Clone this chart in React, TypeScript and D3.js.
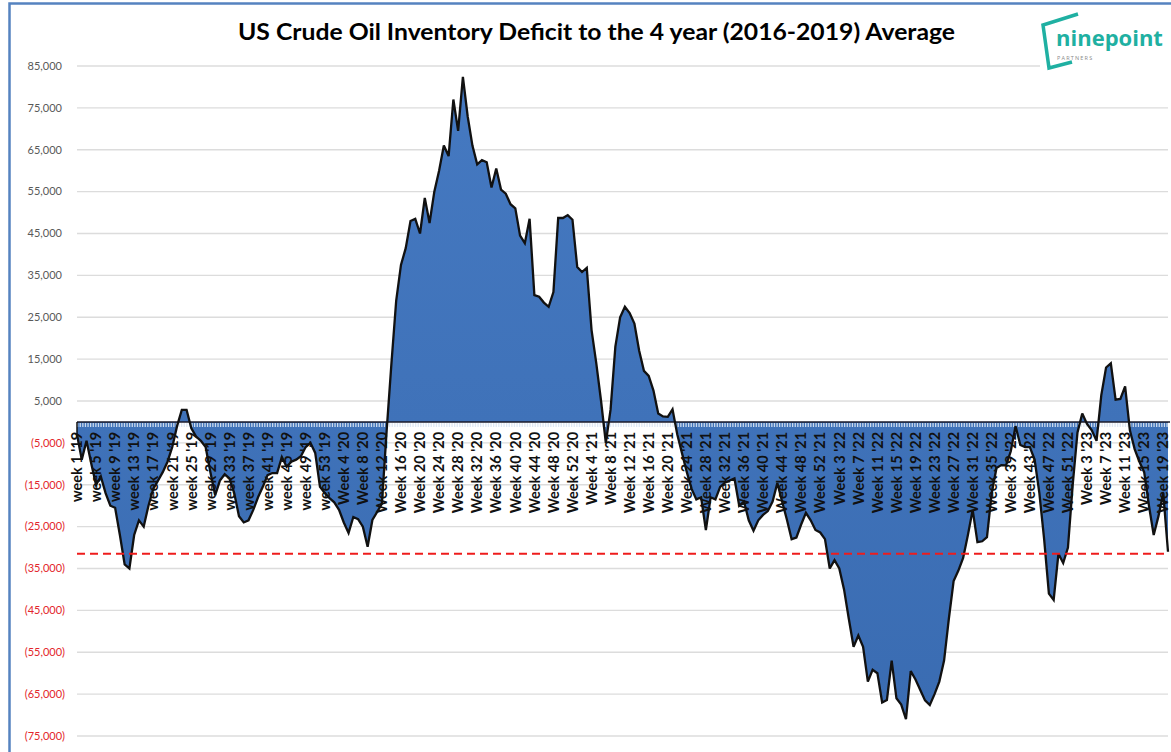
import React from "react";
import * as d3 from "d3";

// Weekly deficit vs 4-year (2016-2019) average, thousand barrels
const deficitK: number[] = [
  -3, -9, -4.5, -10, -15, -13, -17, -20, -20.5, -27,
  -34, -35, -27, -23.5, -25, -20, -16, -14, -12, -9.5,
  -6, -1, 2.9, 2.9, -1.5, -3.5, -4.5, -6, -12, -17.5,
  -14, -12.5, -13.5, -17, -22.5, -24, -23.5, -21, -18, -15.5,
  -12.7, -12.2, -12.2, -8.4, -10.7, -9.5, -9, -8.2, -6, -5,
  -7.4, -15.5, -17, -18.2, -19.2, -21, -24, -26.5, -22.7, -23.2,
  -25, -29.8, -23.4, -21.5, -19.5, -2, 14, 29, 37.5, 41.5,
  48, 48.5, 45, 53.5, 47.5, 55, 60, 66, 63.5, 77,
  69.5, 82.4, 73, 66, 61.5, 62.5, 62, 56, 60.5, 55.5,
  54.5, 52, 51, 44.5, 42.7, 48.5, 30.3, 29.9, 28.5, 27.5,
  31, 48.7, 48.7, 49.4, 48.3, 37, 35.8, 36.8, 22, 14,
  5, -5, 3, 18, 25, 27.5, 26, 23.5, 17, 12.2,
  11, 7.5, 2, 1.3, 1.2, 3, -3, -7.5, -12, -16,
  -18.5, -18, -25.8, -18, -18.5, -15.5, -14.5, -14, -13.5, -20,
  -19, -23.5, -26, -23.5, -22.2, -21.3, -19, -14.6, -19, -23.3,
  -28, -27.6, -24.5, -21.7, -23.5, -25.8, -26.4, -28, -35, -33,
  -35, -40, -47, -53.7, -51, -53.7, -62, -59.2, -60, -67,
  -66.4, -57, -66, -67.5, -71, -59.5, -61.5, -64, -66.5, -67.6,
  -65, -62, -57, -47, -38, -35.5, -32.5, -27, -21, -28.7,
  -28.5, -27.5, -17, -11, -10.3, -10.4, -7, -1, -5.5, -6,
  -6, -9, -17, -28, -41, -42.5, -31.5, -33.7, -30, -15,
  -2.5, 2, -0.5, -2, -4.5, 6.4, 13, 14, 5.3, 5.5,
  8.5, -2, -6.5, -9.5, -12, -20, -27, -22.5, -17, -31,
];

// Category labels shown on every 4th week
const weekLabels: string[] = [
  "week 1 '19", "week 5 '19", "week 9 '19", "week 13 '19", "week 17 '19", "week 21 '19",
  "week 25 '19", "week 29 '19", "week 33 '19", "week 37 '19", "week 41 '19", "week 45 '19",
  "week 49 '19", "week 53 '19",
  "Week 4 '20", "Week 8 '20", "Week 12 '20", "Week 16 '20", "Week 20 '20", "Week 24 '20",
  "Week 28 '20", "Week 32 '20", "Week 36 '20", "Week 40 '20", "Week 44 '20", "Week 48 '20",
  "Week 52 '20",
  "Week 4 '21", "Week 8 '21", "Week 12 '21", "Week 16 '21", "Week 20 '21", "Week 24 '21",
  "Week 28 '21", "Week 32 '21", "Week 36 '21", "Week 40 '21", "Week 44 '21", "Week 48 '21",
  "Week 52 '21",
  "Week 3 '22", "Week 7 '22", "Week 11 '22", "Week 15 '22", "Week 19 '22", "Week 23 '22",
  "Week 27 '22", "Week 31 '22", "Week 35 '22", "Week 39 '22", "Week 43 '22", "Week 47 '22",
  "Week 51 '22",
  "Week 3 '23", "Week 7 '23", "Week 11 '23", "Week 15 '23", "Week 19 '23",
];
const labelEvery = 4;

const yTicks: number[] = [
  85000, 75000, 65000, 55000, 45000, 35000, 25000, 15000, 5000,
  -5000, -15000, -25000, -35000, -45000, -55000, -65000, -75000,
];

const thresholdValue = -31500;
const title = "US Crude Oil Inventory Deficit to the 4 year (2016-2019) Average";

export default function App() {
  const W = 1171;
  const H = 752;
  const x = d3.scaleLinear().domain([0, deficitK.length - 1]).range([77, 1168]);
  const y = d3.scaleLinear().domain([-75000, 85000]).range([736, 66]);
  const y0 = y(0);

  const area = d3
    .area<number>()
    .x((_, i) => x(i))
    .y0(y0)
    .y1((d) => y(d * 1000));
  const line = d3
    .line<number>()
    .x((_, i) => x(i))
    .y((d) => y(d * 1000));

  const fmt = d3.format(",");
  const font = "Lato, 'Open Sans', sans-serif";

  return (
    <svg
      width={W}
      height={H}
      style={{ position: "absolute", left: 0, top: 0, background: "#fff" }}
    >
      <defs>
        <linearGradient id="fillGrad" x1="0" y1="0" x2="0" y2="1">
          <stop offset="0" stopColor="#4579c1" />
          <stop offset="1" stopColor="#3a6cb2" />
        </linearGradient>
      </defs>
      <rect x={0} y={0} width={W} height={H} fill="#fff" />
      {/* frame */}
      <rect x={9.5} y={3.5} width={W + 20} height={H + 20} fill="none" stroke="#5583c0" strokeWidth={2.5} />

      {/* gridlines */}
      {yTicks.map((t) => (
        <line key={"g" + t} x1={77} x2={1168} y1={y(t)} y2={y(t)} stroke="#dcdcdc" strokeWidth={1.3} />
      ))}

      {/* y labels */}
      {yTicks.map((t) => (
        <text
          key={"yl" + t}
          x={t < 0 ? 65 : 62}
          y={y(t)}
          dy="0.35em"
          textAnchor="end"
          fontFamily={font}
          fontSize={11}
          fill={t < 0 ? "#e3262b" : "#595959"}
        >
          {t < 0 ? `(${fmt(-t)})` : fmt(t)}
        </text>
      ))}

      {/* area */}
      <path d={area(deficitK) || ""} fill="url(#fillGrad)" />
      {/* light tick band under axis */}
      <line x1={77} x2={1168} y1={y0 + 3} y2={y0 + 3} stroke="#dbe6f4" strokeWidth={4} strokeDasharray="1.3,1.3" opacity={0.9} />
      {/* zero axis */}
      <line x1={77} x2={1170} y1={y0} y2={y0} stroke="#1a1a2a" strokeWidth={1.5} />
      {/* outline */}
      <path d={line(deficitK) || ""} fill="none" stroke="#111" strokeWidth={2.3} strokeLinejoin="miter" strokeMiterlimit={3} />
      <line x1={x(0)} x2={x(0)} y1={y0} y2={y(deficitK[0] * 1000)} stroke="#111" strokeWidth={1.5} />

      {/* x labels */}
      {weekLabels.map((lab, k) => {
        const xi = x(k * labelEvery);
        const yi = y0 + 10;
        return (
          <text
            key={"xl" + k}
            transform={`translate(${xi},${yi}) rotate(-90)`}
            textAnchor="end"
            dy="0.36em"
            fontFamily={font}
            fontWeight={700}
            fontSize={14.5}
            fill="#111"
          >
            {lab}
          </text>
        );
      })}

      {/* threshold */}
      <line
        x1={77}
        x2={1168}
        y1={y(thresholdValue)}
        y2={y(thresholdValue)}
        stroke="#ee1c1c"
        strokeWidth={2}
        strokeDasharray="8,5"
      />

      {/* title */}
      <text
        x={238}
        y={40}
        textLength={717}
        lengthAdjust="spacingAndGlyphs"
        fontFamily={font}
        fontWeight={700}
        fontSize={22}
        fill="#000"
      >
        {title}
      </text>

      {/* logo */}
      <g>
        <rect x={1040} y={8} width={131} height={64} fill="#fff" />
        <polyline
          points="1078,14 1043,25 1049,68 1072,62"
          fill="none"
          stroke="#1fb0a2"
          strokeWidth={3.5}
          strokeLinejoin="miter"
        />
        <text
          x={1056}
          y={46}
          fontFamily="'Open Sans', sans-serif"
          fontWeight={700}
          fontSize={22}
          fill="#1fb0a2"
        >
          ninepoint
        </text>
        <text x={1057} y={60} fontFamily="'Open Sans', sans-serif" fontSize={5.5} fill="#8a8a8a" letterSpacing={1.2}>
          PARTNERS
        </text>
      </g>
    </svg>
  );
}
